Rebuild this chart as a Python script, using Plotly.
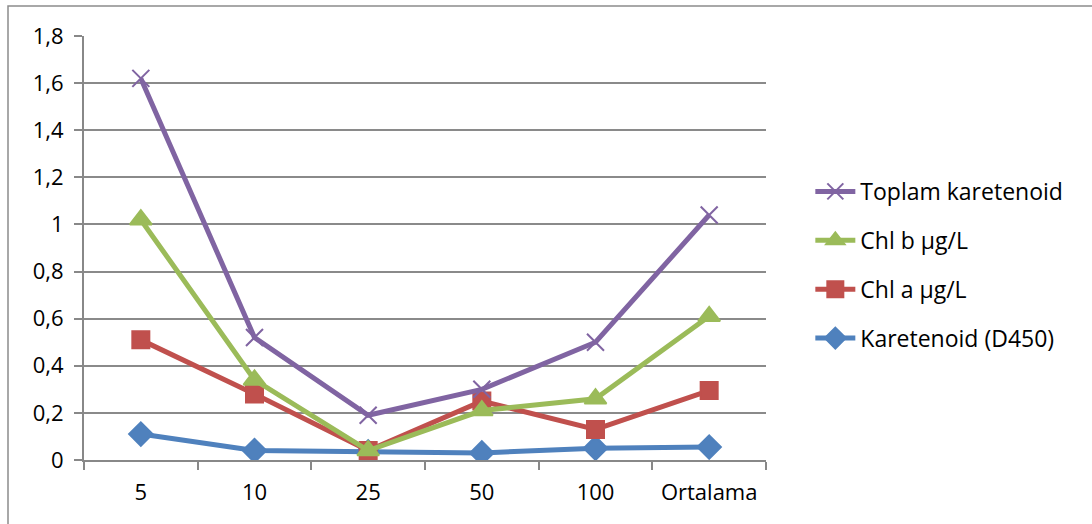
import plotly.graph_objects as go

categories = ["5", "10", "25", "50", "100", "Ortalama"]
karetenoid_d450 = [0.11, 0.04, 0.035, 0.03, 0.05, 0.055]
chl_a = [0.51, 0.28, 0.04, 0.25, 0.13, 0.295]
chl_b = [1.02, 0.34, 0.04, 0.21, 0.26, 0.61]
toplam_karetenoid = [1.62, 0.52, 0.19, 0.30, 0.50, 1.04]
y_ticks = [0, 0.2, 0.4, 0.6, 0.8, 1.0, 1.2, 1.4, 1.6, 1.8]

W, H = 1092, 524
L, R, T, B = 84, 326, 36, 64
FONT = "Open Sans"
FS = 22

series = [
    ("Karetenoid (D450)", karetenoid_d450, "#4F81BD", "diamond", 18),
    ("Chl a µg/L", chl_a, "#C0504D", "square", 17),
    ("Chl b µg/L", chl_b, "#9BBB59", "triangle-up", 19),
    ("Toplam karetenoid", toplam_karetenoid, "#8064A2", "x-thin-open", 17),
]

fig = go.Figure()
for i, (name, vals, color, sym, size) in enumerate(series):
    fig.add_trace(go.Scatter(
        x=categories, y=vals, name=name, mode="lines+markers",
        legendgroup=f"g{i}", legendrank=100 - i,
        line=dict(color=color, width=5),
        marker=dict(symbol=sym, size=size, color=color,
                    line=dict(color=color, width=2)),
    ))

fig.update_layout(
    width=W, height=H,
    margin=dict(l=L, r=R, t=T, b=B),
    paper_bgcolor="white", plot_bgcolor="white",
    separators=",.",
    font=dict(family=FONT, size=FS, color="black"),
    showlegend=True,
    legend=dict(
        x=1.065, y=0.46, xanchor="left", yanchor="middle",
        traceorder="grouped", tracegroupgap=16,
        font=dict(family=FONT, size=23, color="black"),
        itemwidth=40,
    ),
    xaxis=dict(
        type="category", range=[-0.5, 5.5],
        showgrid=False, showline=True, linecolor="#888888", linewidth=2,
        ticks="outside", tickson="boundaries", ticklen=8,
        tickcolor="#888888", tickwidth=2, ticklabelstandoff=12,
        tickfont=dict(family=FONT, size=FS),
    ),
    yaxis=dict(
        range=[0, 1.8], tickvals=y_ticks,
        showgrid=True, gridcolor="#8a8a8a", gridwidth=2,
        showline=True, linecolor="#888888", linewidth=2,
        ticks="outside", ticklen=8, tickcolor="#888888", tickwidth=2,
        zeroline=False, ticklabelstandoff=6,
        tickfont=dict(family=FONT, size=FS),
    ),
)

# outer chart frame
pw, ph = W - L - R, H - T - B
fig.add_shape(
    type="rect", xref="paper", yref="paper",
    x0=(8 - L) / pw, x1=(W + 20 - L) / pw,
    y0=-(H + 20 - T - ph) / ph, y1=(H - 6 - B) / ph,
    line=dict(color="#8c8c8c", width=1.5), fillcolor="rgba(0,0,0,0)",
    layer="below",
)

fig.write_html("out.html")
